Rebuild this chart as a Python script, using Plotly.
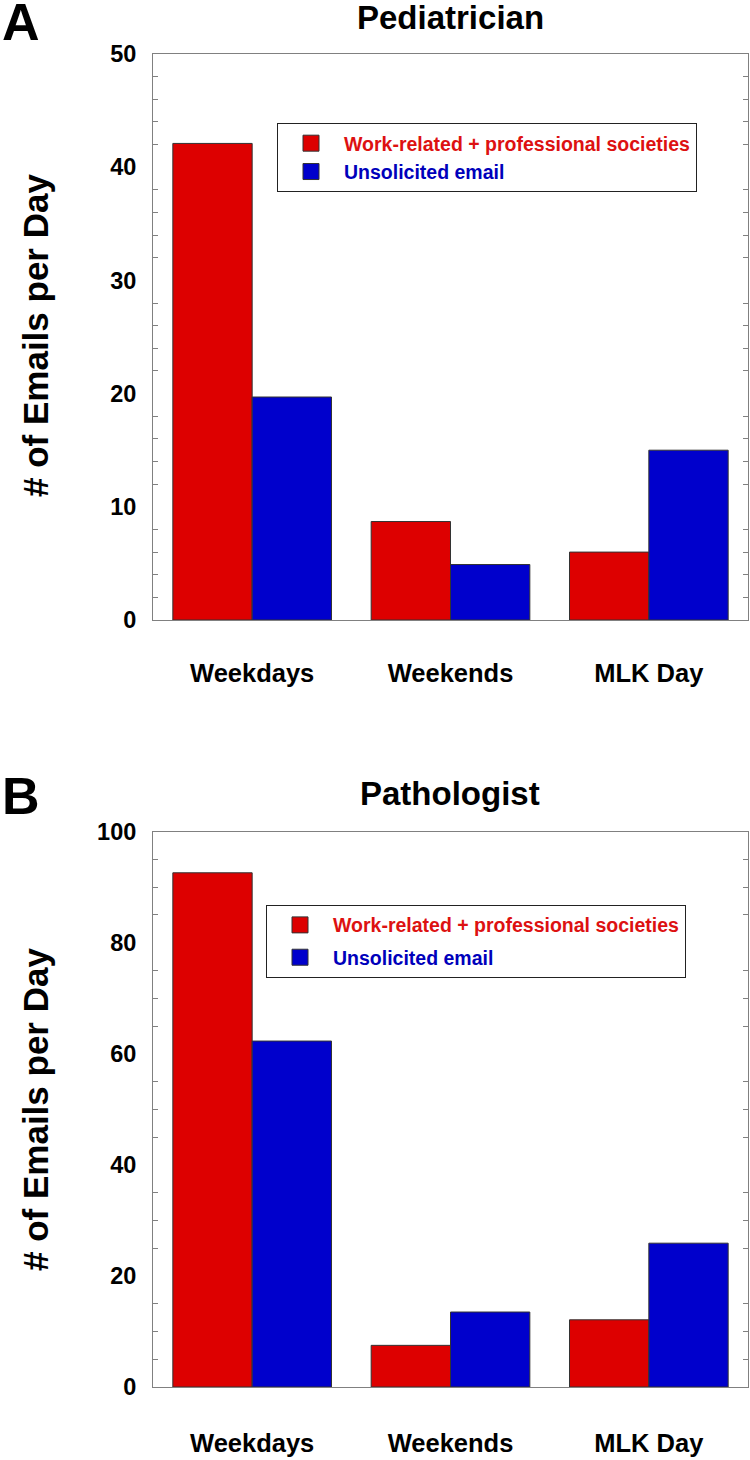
import plotly.graph_objects as go

# ---- data ----
categories = ["Weekdays", "Weekends", "MLK Day"]
pediatrician_work = [42.1, 8.7, 6.0]
pediatrician_unsolicited = [19.7, 4.9, 15.0]
pathologist_work = [92.6, 7.5, 12.1]
pathologist_unsolicited = [62.3, 13.5, 25.9]
series_names = ["Work-related + professional societies", "Unsolicited email"]
panel_titles = ["Pediatrician", "Pathologist"]
panel_letters = ["A", "B"]
y_title = "# of Emails per Day"

# ---- style ----
W, H = 750, 1460
ML, MR, MT, MB = 153, 2, 54, 73
PW, PH = W - ML - MR, H - MT - MB
RED, BLUE = "#dd0000", "#0000cc"
RED_TXT, BLUE_TXT = "#dd1111", "#0000bb"
FONT = "Liberation Sans, Arial, sans-serif"
GREY = "#808080"


def px(x):
    return (x - ML) / PW


def py(y):
    return (H - MB - y) / PH


fig = go.Figure()

panels = [
    (pediatrician_work, pediatrician_unsolicited, "x", "y", "legend"),
    (pathologist_work, pathologist_unsolicited, "x2", "y2", "legend2"),
]
for work, unsol, xa, ya, lg in panels:
    for vals, col in [(work, RED), (unsol, BLUE)]:
        fig.add_trace(go.Bar(x=categories, y=vals, xaxis=xa, yaxis=ya,
                             marker=dict(color=col, line=dict(color="#333333", width=1)),
                             showlegend=False, hoverinfo="x+y"))
    for col, txtcol, nm, grp in [(RED, RED_TXT, series_names[0], "g1"),
                                 (BLUE, BLUE_TXT, series_names[1], "g2")]:
        fig.add_trace(go.Scatter(x=[None], y=[None], xaxis=xa, yaxis=ya, mode="markers",
                                 marker=dict(symbol="square", size=18, color=col,
                                             line=dict(color="#333333", width=1)),
                                 name=f'<span style="color:{txtcol}">{nm}</span>',
                                 legend=lg, legendgroup=grp + lg, showlegend=True))

axis_common = dict(showline=True, linecolor=GREY, linewidth=1, mirror="ticks",
                   showgrid=False, zeroline=False)
tickfont = dict(family=FONT, size=23.5, color="black", weight="bold")
xtickfont = dict(family=FONT, size=25.5, color="black", weight="bold")

fig.update_layout(
    width=W, height=H, plot_bgcolor="white", paper_bgcolor="white",
    margin=dict(l=ML, r=MR, t=MT, b=MB),
    bargap=0.2, barmode="group", bargroupgap=0,
    xaxis=dict(domain=[0, 1], anchor="y", range=[-0.5, 2.5], ticks="",
               tickfont=xtickfont, ticklabelstandoff=30, **axis_common),
    xaxis2=dict(domain=[0, 1], anchor="y2", range=[-0.5, 2.5], ticks="",
                tickfont=xtickfont, ticklabelstandoff=33, **axis_common),
    yaxis=dict(domain=[py(620), 1], anchor="x", range=[0, 50], dtick=10, ticks="",
               minor=dict(dtick=2, ticks="inside", ticklen=5, tickcolor=GREY, tickwidth=1),
               tickfont=tickfont, ticklabelstandoff=11, **axis_common),
    yaxis2=dict(domain=[0, py(831.7)], anchor="x2", range=[0, 100], dtick=20, ticks="",
                minor=dict(dtick=5, ticks="inside", ticklen=5, tickcolor=GREY, tickwidth=1),
                tickfont=tickfont, ticklabelstandoff=11, **axis_common),
    legend=dict(x=px(277), y=py(123), xanchor="left", yanchor="top",
                bordercolor="#222222", borderwidth=1, bgcolor="white",
                font=dict(family=FONT, size=19.5, weight="bold"),
                tracegroupgap=0, itemwidth=56, traceorder="grouped"),
    legend2=dict(x=px(266), y=py(904.7), xanchor="left", yanchor="top",
                 bordercolor="#222222", borderwidth=1, bgcolor="white",
                 font=dict(family=FONT, size=19.5, weight="bold"),
                 tracegroupgap=4, itemwidth=56, traceorder="grouped"),
)

ann = []
for title, letter, ty, ly, yc in [(panel_titles[0], panel_letters[0], 18, 22, 336),
                                  (panel_titles[1], panel_letters[1], 793, 796, 1110)]:
    ann.append(dict(text=f"<b>{title}</b>", x=px(450), y=py(ty), xref="paper", yref="paper",
                    xanchor="center", yanchor="middle", showarrow=False,
                    font=dict(family=FONT, size=33, color="black")))
    ann.append(dict(text=f"<b>{letter}</b>", x=px(21), y=py(ly), xref="paper", yref="paper",
                    xanchor="center", yanchor="middle", showarrow=False,
                    font=dict(family=FONT, size=52, color="black")))
    ann.append(dict(text=f"<b>{y_title}</b>", x=px(35), y=py(yc), xref="paper", yref="paper",
                    xanchor="center", yanchor="middle", showarrow=False, textangle=-90,
                    font=dict(family=FONT, size=35, color="black")))
fig.update_layout(annotations=ann)

fig.write_html("out.html", config={"displayModeBar": False},
               post_script="document.body.style.margin='0';")
